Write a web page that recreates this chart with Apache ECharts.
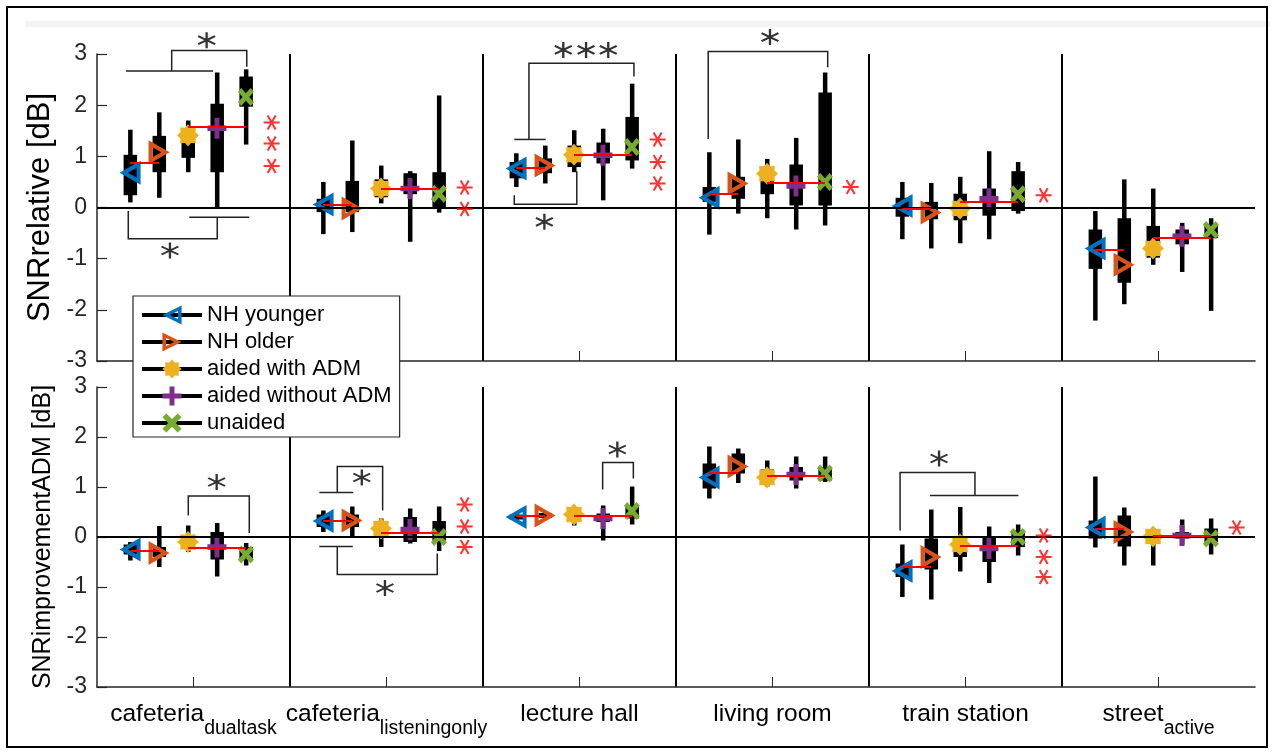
<!DOCTYPE html>
<html>
<head>
<meta charset="utf-8">
<script src="https://cdn.jsdelivr.net/npm/echarts@6/dist/echarts.min.js"></script>
<style>
html, body { margin: 0; padding: 0; background: #fff; }
#main { width: 1275px; height: 752px; }
</style>
</head>
<body>
<div id="main"></div>
<script>
// categories (a "|" splits off the subscript) and groups
var categories = ['cafeteria|dualtask', 'cafeteria|listeningonly', 'lecture hall', 'living room', 'train station', 'street|active'];
var groupNames = ['NH younger', 'NH older', 'aided with ADM', 'aided without ADM', 'unaided'];
var groupColors = ['#0072BD', '#D95319', '#EDB120', '#7E2F8E', '#77AC30'];
var yTicks = [-3, -2, -1, 0, 1, 2, 3];

// SNRrelative [dB]: one row per category, one column per group
var relLo  = [[0.10, 0.19, 0.69, 0.00, 1.23], [-0.52, -0.48, 0.08, -0.67, -0.10], [0.40, 0.47, 0.69, 0.14, 0.76], [-0.53, -0.12, -0.21, -0.43, -0.35], [-0.62, -0.80, -0.70, -0.62, -0.12], [-2.21, -1.89, -1.12, -1.26, -2.02]];
var relQ1  = [[0.24, 0.69, 0.97, 0.69, 1.97], [-0.09, -0.09, 0.20, 0.26, 0.01], [0.57, 0.67, 0.79, 0.86, 0.92], [0.11, 0.17, 0.26, 0.04, 0.04], [-0.18, -0.23, -0.25, -0.16, -0.07], [-1.20, -1.47, -0.98, -0.72, -0.60]];
var relMed = [[0.68, 1.08, 1.41, 1.55, 2.16], [0.06, -0.02, 0.37, 0.37, 0.27], [0.76, 0.82, 1.03, 1.02, 1.18], [0.19, 0.47, 0.66, 0.42, 0.50], [0.03, -0.10, -0.02, 0.17, 0.26], [-0.80, -1.12, -0.80, -0.56, -0.44]];
var relQ3  = [[1.03, 1.40, 1.55, 2.03, 2.56], [0.17, 0.52, 0.55, 0.67, 0.69], [0.89, 0.96, 1.21, 1.27, 1.77], [0.40, 0.60, 0.76, 0.84, 2.25], [0.19, 0.11, 0.27, 0.37, 0.71], [-0.43, -0.21, -0.36, -0.43, -0.33]];
var relHi  = [[1.52, 1.86, 1.70, 2.64, 2.70], [0.50, 1.31, 0.82, 0.71, 2.19], [1.06, 1.21, 1.51, 1.54, 2.42], [1.08, 1.33, 0.95, 1.36, 2.64], [0.50, 0.48, 0.60, 1.10, 0.89], [-0.07, 0.55, 0.37, -0.30, -0.21]];
var relMeanNH    = [0.88, 0.06, 0.77, 0.27, -0.02, -0.82];
var relMeanAided = [1.57, 0.37, 1.04, 0.49, 0.11, -0.59];
var relRedStars  = [[1.66, 1.25, 0.81], [0.39, -0.03], [1.33, 0.89, 0.47], [0.40], [0.24], []];

// SNRimprovementADM [dB]
var impLo  = [[-0.47, -0.60, -0.30, -0.79, -0.57], [0.10, 0.00, -0.20, -0.13, -0.28], [0.30, 0.35, 0.23, -0.07, 0.25], [0.77, 1.08, 1.01, 0.97, 1.10], [-1.20, -1.25, -0.69, -0.92, -0.37], [-0.21, -0.57, -0.57, -0.15, -0.35]];
var impQ1  = [[-0.35, -0.40, -0.22, -0.45, -0.45], [0.20, 0.20, 0.05, -0.10, -0.07], [0.35, 0.38, 0.33, 0.30, 0.37], [0.97, 1.27, 1.05, 1.13, 1.13], [-0.80, -0.65, -0.40, -0.50, -0.20], [-0.03, -0.19, -0.10, -0.03, -0.10]];
var impMed = [[-0.25, -0.32, -0.10, -0.20, -0.35], [0.32, 0.33, 0.17, 0.15, 0.00], [0.40, 0.43, 0.45, 0.37, 0.52], [1.19, 1.41, 1.19, 1.25, 1.27], [-0.68, -0.40, -0.15, -0.23, 0.00], [0.19, 0.10, 0.01, 0.03, -0.03]];
var impQ3  = [[-0.15, -0.20, 0.00, 0.10, -0.20], [0.45, 0.45, 0.25, 0.40, 0.32], [0.45, 0.48, 0.52, 0.47, 0.63], [1.47, 1.67, 1.35, 1.40, 1.40], [-0.53, -0.03, 0.00, 0.00, 0.13], [0.33, 0.43, 0.10, 0.10, 0.17]];
var impHi  = [[-0.10, 0.22, 0.23, 0.28, -0.12], [0.53, 0.61, 0.37, 0.57, 0.61], [0.50, 0.50, 0.60, 0.63, 1.01], [1.81, 1.77, 1.53, 1.61, 1.61], [-0.15, 0.55, 0.60, 0.21, 0.25], [1.21, 0.59, 0.17, 0.35, 0.37]];
var impMeanNH    = [-0.27, 0.32, 0.42, 1.29, -0.60, 0.17];
var impMeanAided = [-0.22, 0.08, 0.43, 1.23, -0.17, 0.03];
var impRedStars  = [[], [0.65, 0.21, -0.20], [], [], [0.03, -0.40, -0.80], [0.19]];

// significance brackets and black stars, in data units (x: 0..6 across the categories)
var relBrackets = [
  [[0.150, 2.67], [0.601, 2.67]],
  [[0.387, 2.67], [0.387, 3.07], [0.776, 3.07], [0.776, 2.75]],
  [[0.162, -0.07], [0.162, -0.61], [0.623, -0.61], [0.623, -0.19]],
  [[0.478, -0.19], [0.789, -0.19]],
  [[2.162, 1.33], [2.325, 1.33]],
  [[2.238, 1.33], [2.238, 2.82], [2.782, 2.82], [2.782, 2.56]],
  [[2.162, 0.24], [2.162, 0.065], [2.486, 0.065], [2.486, 0.71]],
  [[3.167, 1.34], [3.167, 3.05], [3.786, 3.05], [3.786, 2.74]]
];
var relStars = [[0.568, 3.27], [0.378, -0.84], [2.416, 3.08], [2.534, 3.08], [2.649, 3.08], [2.318, -0.28], [3.487, 3.33]];
var impBrackets = [
  [[0.473, 0.43], [0.473, 0.82], [0.789, 0.82], [0.789, 0.08]],
  [[1.152, 0.89], [1.328, 0.89]],
  [[1.245, 0.89], [1.245, 1.41], [1.480, 1.41], [1.480, 0.53]],
  [[1.152, -0.19], [1.325, -0.19]],
  [[1.245, -0.19], [1.245, -0.75], [1.763, -0.75], [1.763, -0.33]],
  [[2.620, 0.95], [2.620, 1.49], [2.779, 1.49], [2.779, 1.17]],
  [[4.161, 0.13], [4.161, 1.29], [4.549, 1.29], [4.549, 0.83]],
  [[4.316, 0.83], [4.774, 0.83]]
];
var impStars = [[0.620, 1.10], [1.372, 1.19], [1.492, -1.02], [2.696, 1.75], [4.363, 1.57]];

var FONT = 'Liberation Sans, Arial, Helvetica, sans-serif';

function groupX(i, k) { return i + 0.5 + (k - 2) * 0.15 - 0.0285; }

// marker shapes
function armsPath(angles, t) {
  var d = '';
  angles.forEach(function (deg) {
    var a = deg * Math.PI / 180, c = Math.cos(a), s = Math.sin(a);
    var p = [[-c + t * s, -s - t * c], [c + t * s, s - t * c], [c - t * s, s + t * c], [-c - t * s, -s + t * c]];
    d += 'M' + p.map(function (q) { return q[0].toFixed(3) + ' ' + q[1].toFixed(3); }).join(' L') + ' Z ';
  });
  return 'path://' + d;
}
function starPath(n, rIn) {
  var d = '';
  for (var j = 0; j < 2 * n; j++) {
    var r = j % 2 ? rIn : 1, a = Math.PI * j / n - Math.PI / 2;
    d += (j ? ' L' : 'M') + (r * Math.cos(a)).toFixed(3) + ' ' + (r * Math.sin(a)).toFixed(3);
  }
  return 'path://' + d + ' Z';
}
var groupSymbols = [
  'path://M-1 0 L1 -1.1 L1 1.1 Z M-0.21 0 L0.62 0.4565 L0.62 -0.4565 Z',
  'path://M1 0 L-1 -1.1 L-1 1.1 Z M0.21 0 L-0.62 0.4565 L-0.62 -0.4565 Z',
  starPath(8, 0.74),
  armsPath([0, 90], 0.26),
  armsPath([45, 135], 0.26)
];
var groupSizes = [[21, 24], [21, 24], [22, 22], [19, 21], [16, 18]];
var redStar = armsPath([0, 60, 120], 0.13);
var blackStar = armsPath([90, 30, 150], 0.12);

function boxSeries(ax, lo, q1, q3, hi) {
  var data = [];
  lo.forEach(function (row, i) {
    row.forEach(function (v, k) { data.push([groupX(i, k), lo[i][k], q1[i][k], q3[i][k], hi[i][k]]); });
  });
  return {
    type: 'custom', xAxisIndex: ax * 2, yAxisIndex: ax, z: 2, data: data,
    encode: { x: 0, y: [1, 2, 3, 4] },
    renderItem: function (params, api) {
      var x = api.value(0);
      var pLo = api.coord([x, api.value(1)]), pQ1 = api.coord([x, api.value(2)]);
      var pQ3 = api.coord([x, api.value(3)]), pHi = api.coord([x, api.value(4)]);
      return {
        type: 'group', children: [
          { type: 'rect', shape: { x: pHi[0] - 2, y: pHi[1], width: 4.5, height: pLo[1] - pHi[1] }, style: { fill: '#000' } },
          { type: 'rect', shape: { x: pQ3[0] - 6.5, y: pQ3[1], width: 13.5, height: pQ1[1] - pQ3[1] }, style: { fill: '#000' } }
        ]
      };
    },
    markLine: {
      silent: true, symbol: ['none', 'none'], label: { show: false },
      lineStyle: { color: '#000', width: 2, type: 'solid' },
      data: [{ yAxis: 0 }]
    }
  };
}

function markerSeries(ax, med) {
  return groupNames.map(function (name, k) {
    return {
      type: 'line', name: name, xAxisIndex: ax * 2, yAxisIndex: ax, z: 4,
      symbol: groupSymbols[k], symbolSize: groupSizes[k], showSymbol: true,
      itemStyle: { color: groupColors[k] },
      lineStyle: { opacity: 0 },
      data: med.map(function (row, i) { return [groupX(i, k), row[k]]; })
    };
  });
}

function meanSeries(ax, nh, aided) {
  var data = [];
  nh.forEach(function (v, i) { data.push({ coords: [[groupX(i, 0), v], [groupX(i, 1), v]] }); });
  aided.forEach(function (v, i) { data.push({ coords: [[groupX(i, 2), v], [groupX(i, 4), v]] }); });
  return {
    type: 'lines', coordinateSystem: 'cartesian2d', xAxisIndex: ax * 2, yAxisIndex: ax, z: 5,
    lineStyle: { color: '#ff0000', width: 2, opacity: 1 }, data: data
  };
}

function bracketSeries(ax, brackets) {
  return {
    type: 'lines', coordinateSystem: 'cartesian2d', polyline: true, clip: false,
    xAxisIndex: ax * 2, yAxisIndex: ax, z: 3,
    lineStyle: { color: '#222', width: 1.5, opacity: 1 },
    data: brackets.map(function (b) { return { coords: b }; })
  };
}

function starSeries(ax, pts, sym, color, size) {
  return {
    type: 'scatter', xAxisIndex: ax * 2, yAxisIndex: ax, z: 5, clip: false,
    symbol: sym, symbolSize: size, itemStyle: { color: color }, data: pts
  };
}
function redStarPoints(stars) {
  var pts = [];
  stars.forEach(function (col, i) { col.forEach(function (y) { pts.push([i + 0.905, y]); }); });
  return pts;
}

function valueX(g) {
  return {
    type: 'value', gridIndex: g, min: 0, max: 6, interval: 1,
    axisLine: { show: false }, axisTick: { show: false }, axisLabel: { show: false },
    splitLine: { show: true, showMinLine: false, showMaxLine: false, lineStyle: { color: '#000', width: 2 } }
  };
}
function catX(g, labels) {
  return {
    type: 'category', gridIndex: g, data: categories, position: 'bottom', boundaryGap: true,
    axisLine: { show: true, onZero: false, lineStyle: { color: '#262626', width: 1.5 } },
    axisTick: { show: true, inside: true, alignWithLabel: true, length: 10, lineStyle: { color: '#262626', width: 1 } },
    splitLine: { show: false },
    axisLabel: {
      show: labels, interval: 0, margin: 15, color: '#000',
      formatter: function (v) {
        var p = v.split('|');
        return p.length > 1 ? '{m|' + p[0] + '}{s|' + p[1] + '}' : '{m|' + p[0] + '}';
      },
      rich: {
        m: { fontSize: 24.5, fontFamily: FONT, color: '#000', lineHeight: 37, verticalAlign: 'top' },
        s: { fontSize: 19.5, fontFamily: FONT, color: '#000', verticalAlign: 'bottom' }
      }
    }
  };
}
function yAx(g, name, size, gap) {
  return {
    type: 'value', gridIndex: g, min: yTicks[0], max: yTicks[yTicks.length - 1], interval: 1,
    name: name, nameLocation: 'middle', nameGap: gap,
    nameTextStyle: { fontSize: size, fontFamily: FONT, color: '#000' },
    axisLine: { show: true, onZero: false, lineStyle: { color: '#262626', width: 1.5 } },
    axisTick: { show: true, inside: true, length: 10, lineStyle: { color: '#262626', width: 1.2 } },
    axisLabel: { fontSize: 23, fontFamily: FONT, color: '#262626', margin: 10 },
    splitLine: { show: false }
  };
}

var chart = echarts.init(document.getElementById('main'));
var option = {
  animation: false,
  backgroundColor: '#fff',
  textStyle: { fontFamily: FONT },
  grid: [
    { left: 97, top: 54, width: 1158, height: 307 },
    { left: 97, top: 387, width: 1158, height: 300 }
  ],
  xAxis: [valueX(0), catX(0, false), valueX(1), catX(1, true)],
  yAxis: [yAx(0, 'SNRrelative [dB]', 31, 35), yAx(1, 'SNRimprovementADM [dB]', 25, 41)],
  legend: {
    data: groupNames, orient: 'vertical', left: 133, top: 296, z: 10,
    backgroundColor: '#fff', borderColor: '#262626', borderWidth: 1.2,
    padding: [8, 8, 3, 7], itemWidth: 60, itemHeight: 24, itemGap: 5,
    textStyle: { fontSize: 22, color: '#000', fontFamily: FONT, lineHeight: 22 },
    itemStyle: { borderWidth: 0 },
    lineStyle: { color: '#000', width: 4, opacity: 1 },
    selectedMode: false
  },
  graphic: [
    { type: 'rect', z: -1, shape: { x: 25, y: 21, width: 1245, height: 6 }, style: { fill: '#f4f4f4' } },
    { type: 'rect', z: 20, shape: { x: 7, y: 7, width: 1260, height: 740 }, style: { fill: null, stroke: '#000', lineWidth: 2 } }
  ],
  series: [].concat(
    [boxSeries(0, relLo, relQ1, relQ3, relHi), boxSeries(1, impLo, impQ1, impQ3, impHi)],
    markerSeries(0, relMed), markerSeries(1, impMed),
    [meanSeries(0, relMeanNH, relMeanAided), meanSeries(1, impMeanNH, impMeanAided)],
    [bracketSeries(0, relBrackets), bracketSeries(1, impBrackets)],
    [starSeries(0, relStars, blackStar, '#000', [18, 16]), starSeries(1, impStars, blackStar, '#000', [18, 16])],
    [starSeries(0, redStarPoints(relRedStars), redStar, '#ff0000', [16, 15]), starSeries(1, redStarPoints(impRedStars), redStar, '#ff0000', [16, 15])]
  )
};
chart.setOption(option);
</script>
</body>
</html>
